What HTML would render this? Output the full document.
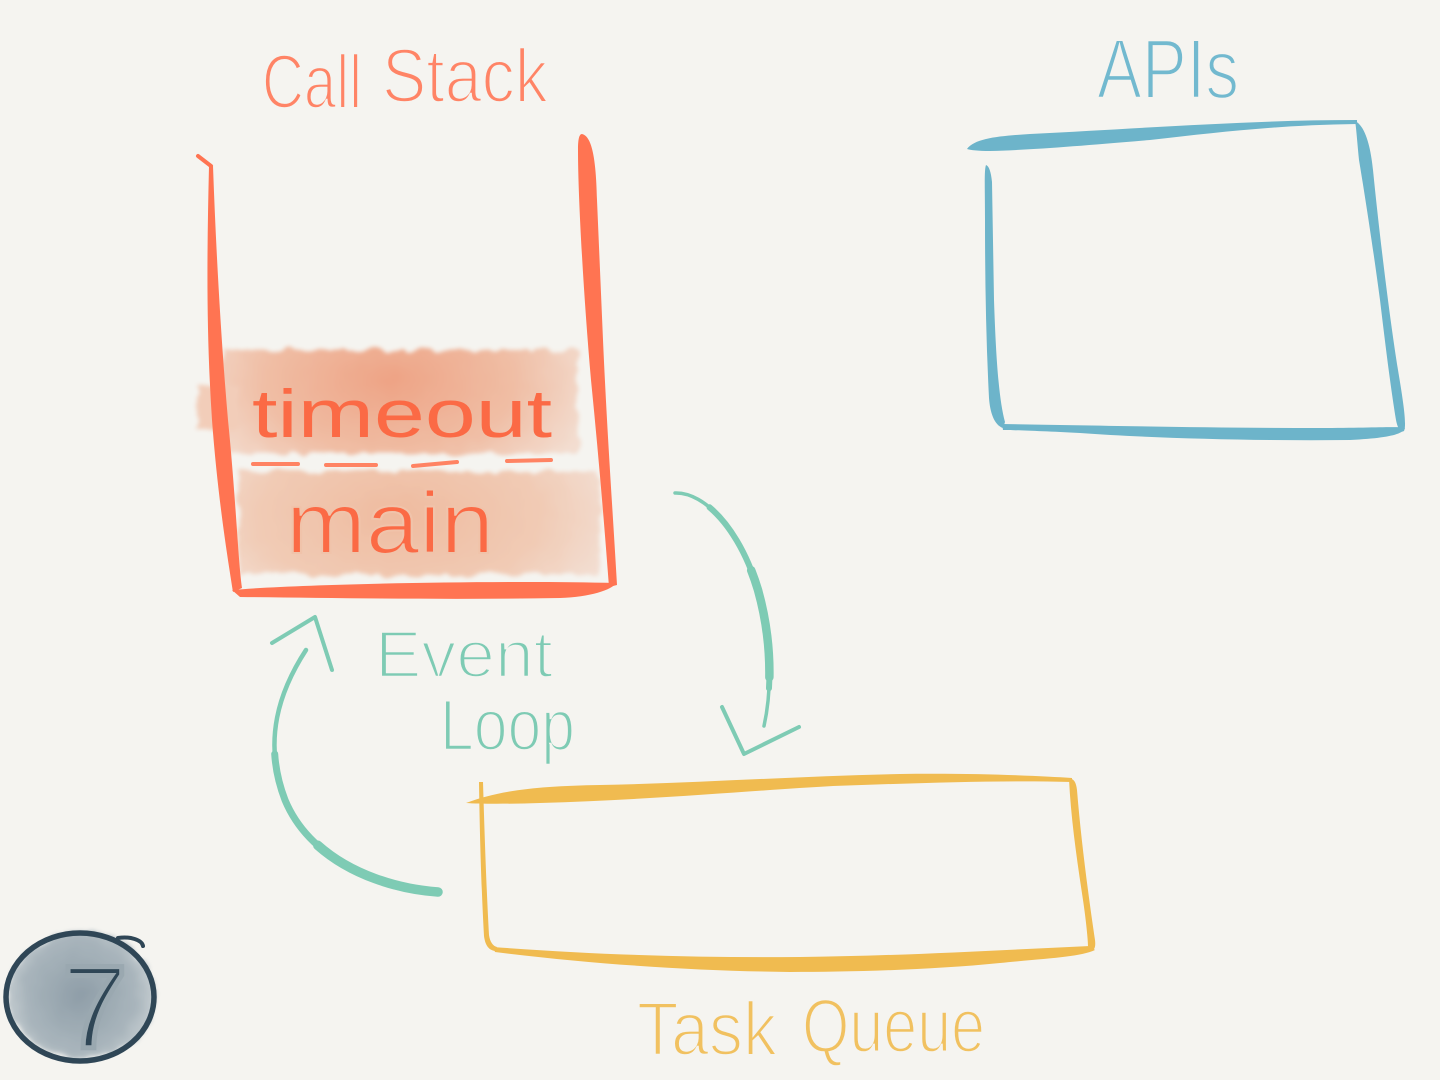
<!DOCTYPE html>
<html><head><meta charset="utf-8"><style>
html,body{margin:0;padding:0;background:#f5f4f0;}
svg{display:block;}
text{font-family:"Liberation Sans",sans-serif;}
</style></head><body>
<svg width="1440" height="1080" viewBox="0 0 1440 1080" xmlns="http://www.w3.org/2000/svg">
<defs>
  <filter id="rag" x="-10%" y="-20%" width="120%" height="140%">
    <feTurbulence type="fractalNoise" baseFrequency="0.06" numOctaves="2" seed="3" result="n"/>
    <feDisplacementMap in="SourceGraphic" in2="n" scale="12" xChannelSelector="R" yChannelSelector="G" result="d"/>
    <feGaussianBlur in="d" stdDeviation="2"/>
  </filter>
  <radialGradient id="g1" cx="390" cy="380" r="210" gradientUnits="userSpaceOnUse" gradientTransform="translate(390 380) scale(1 0.6) translate(-390 -380)">
    <stop offset="0" stop-color="#eea385"/>
    <stop offset="0.6" stop-color="#f0bea5"/>
    <stop offset="1" stop-color="#f3ddd0"/>
  </radialGradient>
  <radialGradient id="g2" cx="400" cy="515" r="220" gradientUnits="userSpaceOnUse" gradientTransform="translate(400 515) scale(1 0.55) translate(-400 -515)">
    <stop offset="0" stop-color="#efbb9f"/>
    <stop offset="0.65" stop-color="#f1cbb5"/>
    <stop offset="1" stop-color="#f3ded2"/>
  </radialGradient>
  <radialGradient id="g3" cx="80" cy="995" r="80" gradientUnits="userSpaceOnUse">
    <stop offset="0" stop-color="#8f9ea8"/>
    <stop offset="0.7" stop-color="#a9b5bc"/>
    <stop offset="1" stop-color="#ccd3d6"/>
  </radialGradient>
</defs>

<rect width="1440" height="1080" fill="#f5f4f0"/>

<!-- Call Stack title -->
<text x="262" y="108" font-size="76" fill="#ff8466" stroke="#f5f4f0" stroke-width="2.5" textLength="100" lengthAdjust="spacingAndGlyphs">Call</text>
<text x="382" y="102" font-size="76" fill="#ff8466" stroke="#f5f4f0" stroke-width="2.5" textLength="166" lengthAdjust="spacingAndGlyphs">Stack</text>

<!-- washes -->
<g filter="url(#rag)">
  <rect x="222" y="350" width="356" height="104" fill="url(#g1)"/>
  <rect x="198" y="386" width="40" height="44" fill="#f2cdb9"/>
  <rect x="238" y="471" width="362" height="104" fill="url(#g2)"/>
</g>

<!-- call stack box -->
<line x1="198" y1="156" x2="211" y2="166" stroke="#ff7452" stroke-width="4" stroke-linecap="round"/>
<path d="M209,166 C207,250 206,330 212,420 C218,500 228,560 233,592 L242,588 C238,560 236,500 228,420 C221,340 216,250 213,166 Z" fill="#ff7452"/>
<path d="M232,590 C300,584 500,580 616,583 C612,590 590,597 560,598 C450,600 330,598 240,597 Z" fill="#ff7452"/>
<path d="M582,134 C590,136 596,150 597,200 L603,340 C607,430 612,500 617,585 L609,587 C604,520 598,450 591,380 C584,300 578,200 578,150 C578,140 579,134 582,134 Z" fill="#ff7452"/>

<!-- timeout / main -->
<text x="252" y="437" font-size="68" fill="#fb6a45" textLength="300" lengthAdjust="spacingAndGlyphs">timeout</text>
<g stroke="#ff8363" stroke-width="4" stroke-linecap="round">
  <line x1="253" y1="464" x2="298" y2="464"/>
  <line x1="326" y1="465" x2="376" y2="465"/>
  <line x1="413" y1="466" x2="457" y2="462"/>
  <line x1="507" y1="461" x2="551" y2="460"/>
</g>
<text x="286" y="553" font-size="87" fill="#fb6a45" stroke="#f0c3aa" stroke-width="2" textLength="208" lengthAdjust="spacingAndGlyphs">main</text>

<!-- APIs -->
<text x="1097" y="98" font-size="84" fill="#72b9cf" stroke="#f5f4f0" stroke-width="2.5" textLength="142" lengthAdjust="spacingAndGlyphs">APIs</text>
<g fill="#6db4ca">
  <path d="M967,149 C975,138 1000,136 1030,134 C1150,128 1250,120 1357,120 L1357,124 C1280,125 1220,132 1150,140 C1080,146 1030,150 990,151 C978,151 970,150 967,149 Z"/>
  <path d="M1355,121 C1366,126 1371,150 1373,170 C1380,240 1390,320 1398,370 C1403,400 1407,425 1404,431 C1401,433 1398,430 1396,420 C1391,390 1386,350 1380,300 C1372,240 1364,190 1359,160 C1357,140 1356,125 1355,121 Z"/>
  <path d="M1002,424 C1080,425 1200,428 1320,428 C1370,428 1400,426 1405,428 C1403,434 1390,438 1350,440 C1250,441 1150,438 1080,433 C1040,431 1010,430 1003,430 Z"/>
  <path d="M986,165 C989,166 991,172 992,182 L994,300 C996,360 999,400 1005,422 L1003,428 C994,425 990,412 989,398 C986,340 985,280 985,220 C985,190 984,170 986,165 Z"/>
</g>

<!-- Event loop arrows -->
<g fill="none" stroke="#7ecbb4" stroke-linecap="round" stroke-linejoin="round">
  <path d="M675,493 C705,492 740,530 758,590 C772,640 772,690 764,726" pathLength="100" stroke-width="3.5"/>
  <path d="M675,493 C705,492 740,530 758,590 C772,640 772,690 764,726" pathLength="100" stroke-width="6" stroke-dasharray="72 200" stroke-dashoffset="-14"/>
  <path d="M675,493 C705,492 740,530 758,590 C772,640 772,690 764,726" pathLength="100" stroke-width="8.5" stroke-dasharray="40 200" stroke-dashoffset="-42"/>
  <polyline points="722,707 744,754 799,727" stroke-width="4"/>
  <path d="M438,892 C380,888 310,860 285,800 C262,740 280,690 306,650" pathLength="100" stroke-width="4.5"/>
  <path d="M438,892 C380,888 310,860 285,800 C262,740 280,690 306,650" pathLength="100" stroke-width="7" stroke-dasharray="68 200"/>
  <path d="M438,892 C380,888 310,860 285,800 C262,740 280,690 306,650" pathLength="100" stroke-width="9.5" stroke-dasharray="38 200"/>
  <polyline points="272,643 315,617 332,670" stroke-width="4"/>
</g>
<text x="375" y="677" font-size="66" fill="#7ecbb4" stroke="#f5f4f0" stroke-width="2.5" textLength="178" lengthAdjust="spacingAndGlyphs">Event</text>
<text x="440" y="750" font-size="72" fill="#7ecbb4" stroke="#f5f4f0" stroke-width="2.5" textLength="135" lengthAdjust="spacingAndGlyphs">Loop</text>

<!-- Task queue box -->
<g fill="#f0bb50">
  <path d="M466,803 C500,790 540,786 600,785 C700,783 800,776 900,774 C980,773 1040,776 1072,778 L1072,782 C1000,780 920,783 833,786 C760,790 650,800 540,803 C510,804 480,804 466,803 Z"/>
  <path d="M479,782 L483,782 C485,850 487,900 489,935 C490,942 493,946 497,947 L495,951 C488,950 485,944 484,936 C482,900 480,850 479,782 Z"/>
  <path d="M493,947 C600,955 700,958 800,957 C900,956 1000,950 1090,946 L1095,950 C1080,957 1050,958 1000,963 C930,970 850,972 790,972 C700,971 600,965 495,952 Z"/>
  <path d="M1069,779 C1073,778 1076,781 1077,790 C1081,840 1089,900 1095,940 C1096,948 1094,951 1090,951 L1088,946 C1088,940 1086,920 1083,900 C1077,860 1071,820 1069,779 Z"/>
</g>
<text x="637" y="1055" font-size="76" fill="#f1c160" stroke="#f5f4f0" stroke-width="2.5" textLength="140" lengthAdjust="spacingAndGlyphs">Task</text>
<text x="802" y="1052" font-size="76" fill="#f1c160" stroke="#f5f4f0" stroke-width="2.5" textLength="183" lengthAdjust="spacingAndGlyphs">Queue</text>

<!-- circle 7 -->
<g filter="url(#rag)">
  <ellipse cx="82" cy="995" rx="74" ry="64" fill="url(#g3)"/>
</g>
<ellipse cx="80" cy="997" rx="74" ry="64" fill="none" stroke="#2f4656" stroke-width="5.5"/>
<path d="M118,938 C130,936 142,940 143,946" fill="none" stroke="#2f4656" stroke-width="4" stroke-linecap="round"/>
<text x="62" y="1048" font-size="118" fill="#2f4656" stroke="#9aa8b0" stroke-width="5">7</text>

</svg>
</body></html>
